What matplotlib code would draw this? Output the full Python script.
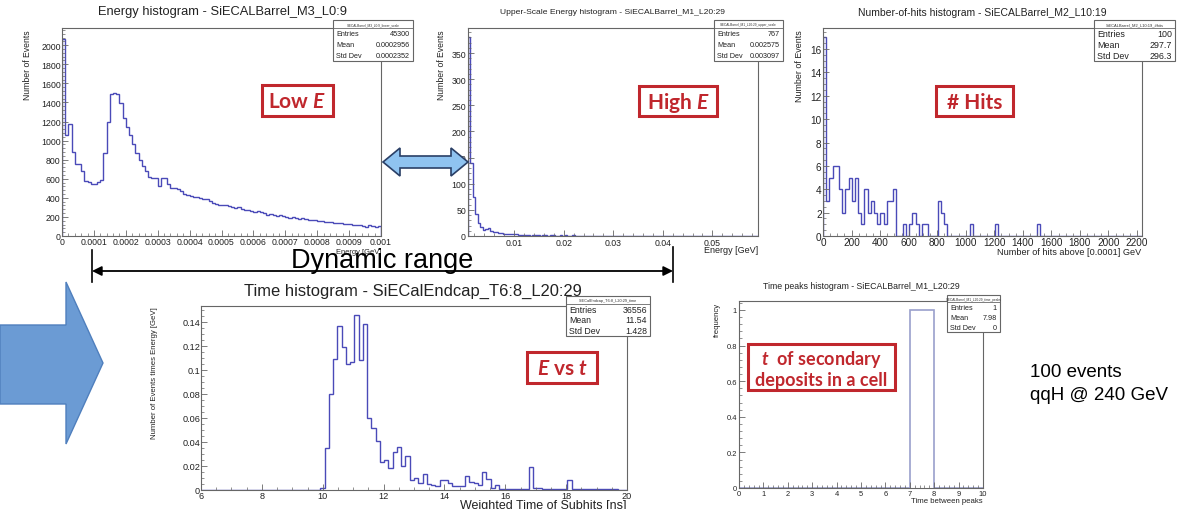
import numpy as np
import matplotlib.pyplot as plt
from matplotlib.patches import Rectangle, Polygon
from matplotlib.ticker import MultipleLocator

plt.rcParams['font.family'] = 'Liberation Sans'
plt.rcParams['mathtext.fontset'] = 'custom'
plt.rcParams['mathtext.rm'] = 'Lato:bold'
plt.rcParams['mathtext.it'] = 'Lato:italic:bold'

# ---- histogram contents ----
# low energy deposits, 100 bins on [0, 0.001] GeV
low_e_range = (0.0, 0.001)
low_e_counts = [2060, 1056, 1170, 881, 756, 756, 683, 578, 568, 550,
                543, 568, 585, 875, 1195, 1491, 1502, 1484, 1397, 1233,
                1143, 1056, 962, 875, 794, 735, 683, 620, 613, 603,
                526, 606, 606, 550, 502, 498, 491, 474, 439, 430,
                420, 410, 405, 400, 390, 385, 370, 345, 335, 330,
                325, 320, 315, 300, 290, 300, 285, 270, 275, 265,
                255, 262, 250, 240, 225, 230, 222, 210, 215, 205,
                198, 190, 195, 185, 180, 190, 175, 170, 165, 168,
                155, 160, 150, 148, 145, 140, 132, 135, 128, 125,
                122, 118, 120, 115, 110, 95, 112, 100, 95, 108]

# upper-scale energy, bins of 0.0005 GeV starting at 0.0007
high_e_start, high_e_width = 0.0007, 0.0005
high_e_counts = [380, 140, 75, 42, 25, 18, 12, 14, 15, 10,
                 7, 8, 6, 5, 4, 3, 3, 4, 4, 3,
                 2, 2, 1, 2, 1, 0, 1, 2, 1, 0,
                 1, 1, 0, 2, 1, 0, 0, 1, 0, 1,
                 0, 0, 1] + [0] * 74

# number of hits per event, 100 bins on [0, 2235]
hits_range = (0, 2235)
hits_counts = ([17, 3, 5, 6, 6, 4, 2, 4, 5, 3, 5, 2, 1, 4, 2, 3, 2, 1, 2, 1, 3, 3, 4]
               + [0, 0, 1, 0, 1, 2, 1, 0, 1, 1, 0, 0, 0, 3, 2, 1, 0, 0, 0, 0, 0, 0, 0]
               + [1] + [0] * 7 + [1] + [0] * 12 + [1] + [0] * 32)

# energy weighted time, 100 bins on [6, 20] ns
time_range = (6, 20)
time_counts = ([0.0] * 28
               + [0.002, 0.035, 0.080, 0.109, 0.137, 0.119, 0.105, 0.107, 0.146, 0.108,
                  0.138, 0.060, 0.052, 0.041, 0.023, 0.025, 0.018, 0.032, 0.036, 0.020,
                  0.028, 0.008, 0.010, 0.006, 0.013, 0.005, 0.004, 0.003, 0.008, 0.008,
                  0.006, 0.003, 0.003, 0.003, 0.012, 0.007, 0.006, 0.004, 0.015, 0.009,
                  0.002, 0.004, 0.001, 0.001, 0.0005, 0.001, 0.001, 0.001, 0.001, 0.019,
                  0.002, 0.002, 0.001, 0.001, 0.001, 0.0005, 0.001, 0.0005, 0.008, 0.001,
                  0.0005, 0.0005, 0.0005, 0.001, 0.0005, 0.0005, 0.0005, 0.0005, 0.0005, 0.0005,
                  0.0, 0.0])

# time between peaks, unit bins on [0, 10]
peaks_counts = [0, 0, 0, 0, 0, 0, 0, 1, 0, 0]

low_e_xticks = ['0', '0.0001', '0.0002', '0.0003', '0.0004', '0.0005',
                '0.0006', '0.0007', '0.0008', '0.0009', '0.001']
high_e_xticks = ['0.01', '0.02', '0.03', '0.04', '0.05']
time_yticks = ['0', '0.02', '0.04', '0.06', '0.08', '0.1', '0.12', '0.14']
peaks_yticks = ['0', '0.2', '0.4', '0.6', '0.8', '1']

stats = {
    'low': ('SiECALBarrel_M3_L0:9_linear_scale', ['45300', '0.0002956', '0.0002352']),
    'high': ('SiECALBarrel_M1_L20:29_upper_scale', ['767', '0.002575', '0.003097']),
    'hits': ('SiECALBarrel_M2_L10:19_#hits', ['100', '297.7', '296.3']),
    'time': ('SiECalEndcap_T6:8_L20:29_time', ['36556', '11.54', '1.428']),
    'peaks': ('SiECALBarrel_M1_L20:29_time_peaks', ['1', '7.98', '0']),
}

W, H = 1187, 510
FRAME = '#666666'
LINE = '#4a4ab8'
RED = '#c0272d'

fig = plt.figure(figsize=(W / 100, H / 100), dpi=100)


def panel(x0, y0, x1, y1):
    return fig.add_axes([x0 / W, 1 - y1 / H, (x1 - x0) / W, (y1 - y0) / H])


def root_style(ax, xmaj, xmin, ymaj, ymin, fs, pad=1.5):
    for s in ax.spines.values():
        s.set_color(FRAME)
        s.set_linewidth(0.8)
    ax.xaxis.set_major_locator(MultipleLocator(xmaj))
    ax.xaxis.set_minor_locator(MultipleLocator(xmin))
    ax.yaxis.set_major_locator(MultipleLocator(ymaj))
    ax.yaxis.set_minor_locator(MultipleLocator(ymin))
    ax.tick_params(which='both', direction='in', color=FRAME, labelcolor='#222222',
                   labelsize=fs, pad=pad)
    ax.tick_params(which='major', length=4.5, width=0.6)
    ax.tick_params(which='minor', length=2.2, width=0.5)


# Low E
ax1 = panel(62, 29, 381, 237)
ax1.stairs(low_e_counts, np.linspace(*low_e_range, len(low_e_counts) + 1), color=LINE, lw=1)
ax1.set_xlim(*low_e_range)
ax1.set_ylim(0, 2180)
root_style(ax1, 0.0001, 0.00002, 200, 40, 6.3, pad=1.0)
ax1.set_xticks(np.linspace(0, 0.001, len(low_e_xticks)), low_e_xticks)

# High E
ax2 = panel(468, 29, 758, 237)
he_edges = high_e_start + high_e_width * np.arange(len(high_e_counts) + 1)
ax2.stairs(high_e_counts, he_edges, color=LINE, lw=1)
ax2.set_xlim(high_e_start, he_edges[-1])
ax2.set_ylim(0, 398)
root_style(ax2, 0.01, 0.002, 50, 10, 6.3)
ax2.set_xticks([0.01, 0.02, 0.03, 0.04, 0.05], high_e_xticks)

# number of hits
ax3 = panel(823, 29, 1142, 237)
ax3.stairs(hits_counts, np.linspace(*hits_range, len(hits_counts) + 1), color=LINE, lw=1)
ax3.set_xlim(*hits_range)
ax3.set_ylim(0, 17.8)
root_style(ax3, 200, 50, 2, 0.5, 7.2, pad=1.0)

# time histogram
ax4 = panel(201, 307, 627, 491)
ax4.stairs(time_counts, np.linspace(*time_range, len(time_counts) + 1), color=LINE, lw=1)
ax4.set_xlim(*time_range)
ax4.set_ylim(0, 0.1533)
root_style(ax4, 2, 0.5, 0.02, 0.005, 6.6, pad=0.6)
ax4.set_yticks(np.arange(len(time_yticks)) * 0.02, time_yticks)

# time between peaks
ax5 = panel(739, 302, 983, 489)
ax5.stairs(peaks_counts, np.arange(len(peaks_counts) + 1), color='#9aa0cc', lw=1.2)
ax5.set_xlim(0, 10)
ax5.set_ylim(0, 1.05)
root_style(ax5, 1, 0.2, 0.2, 0.04, 5.4)
ax5.set_yticks(np.arange(len(peaks_yticks)) * 0.2, peaks_yticks)

# overlay in pixel coordinates for titles, labels and annotations
ov = fig.add_axes([0, 0, 1, 1], zorder=10)
ov.set_xlim(0, W)
ov.set_ylim(H, 0)
ov.set_axis_off()
ov.patch.set_visible(False)

titles = [
    (222, 12, 'Energy histogram - SiECALBarrel_M3_L0:9', 9.3),
    (613, 13, 'Upper-Scale Energy histogram - SiECALBarrel_M1_L20:29', 6.1),
    (982, 13, 'Number-of-hits histogram - SiECALBarrel_M2_L10:19', 7.45),
    (413, 291, 'Time histogram - SiECalEndcap_T6:8_L20:29', 11.9),
    (861, 287, 'Time peaks histogram - SiECALBarrel_M1_L20:29', 6.3),
]
for x, y, t, fs in titles:
    ov.text(x, y, t, ha='center', va='center', fontsize=fs, color='#222222')

ylabels = [(27, 30, 'Number of Events', 6.2), (442, 30, 'Number of Events', 6.2),
           (799, 30, 'Number of Events', 6.4), (155, 307, 'Number of Events times Energy [GeV]', 5.6),
           (717, 303, 'frequency', 5.6)]
for x, y, t, fs in ylabels:
    ov.text(x, y, t, ha='center', va='top', rotation=90, fontsize=fs, color='#222222')

xlabels = [(381, 253, 'Energy [GeV]', 5.4), (758, 251, 'Energy [GeV]', 6.5),
           (1141, 253, 'Number of hits above [0.0001] GeV', 6.6),
           (627, 506, 'Weighted Time of Subhits [ns]', 9.0), (983, 502, 'Time between peaks', 5.6)]
for x, y, t, fs in xlabels:
    ov.text(x, y, t, ha='right', va='center', fontsize=fs, color='#222222')


def stats_box(x0, y0, x1, y1, key, fs):
    name, vals = stats[key]
    ov.add_patch(Rectangle((x0, y0), x1 - x0, y1 - y0, fc='white', ec=FRAME, lw=0.8))
    hdr = y0 + (y1 - y0) * 0.2
    ov.plot([x0, x1], [hdr, hdr], color=FRAME, lw=0.6)
    ov.text((x0 + x1) / 2, (y0 + hdr) / 2, name, ha='center', va='center', fontsize=fs * 0.45,
            color='#333333')
    step = (y1 - hdr) / 3
    for i, lab in enumerate(['Entries', 'Mean', 'Std Dev']):
        yy = hdr + step * (i + 0.5)
        ov.text(x0 + 3, yy, lab, ha='left', va='center', fontsize=fs, color='#222222')
        ov.text(x1 - 3, yy, vals[i], ha='right', va='center', fontsize=fs, color='#222222')


stats_box(333, 21, 413, 62, 'low', 5.2)
stats_box(714, 21, 783, 62, 'high', 5.2)
stats_box(1094, 21, 1175, 62, 'hits', 6.4)
stats_box(566, 297, 650, 337, 'time', 6.3)
stats_box(947, 296, 1000, 333, 'peaks', 5.2)


def red_box(x0, y0, x1, y1, text, fs):
    ov.add_patch(Rectangle((x0, y0), x1 - x0, y1 - y0, fc='white', ec=RED, lw=2.2))
    ov.text((x0 + x1) / 2, (y0 + y1) / 2 + 1, text, ha='center', va='center', fontsize=fs,
            color=RED, fontweight='bold', family='Lato', linespacing=1.15)


red_box(262, 86, 333, 117, 'Low $E$', 15)
red_box(639, 87, 717, 117, 'High $E$', 15)
red_box(936, 87, 1013, 117, '# Hits', 15)
red_box(527, 353, 597, 384, '$E$ vs $t$', 15)
red_box(748, 345, 895, 391, '$t$  of secondary\ndeposits in a cell', 13)

# double arrow between the energy panels
y_c = 163
dbl = [(383, y_c), (400, y_c - 14), (400, y_c - 6), (451, y_c - 6), (451, y_c - 14),
       (468, y_c), (451, y_c + 14), (451, y_c + 6), (400, y_c + 6), (400, y_c + 14)]
ov.add_patch(Polygon(dbl, closed=True, fc='#8fc3f0', ec='#2a3f66', lw=1.2))

# big block arrow on the left
big = [(0, 326), (66, 326), (66, 283), (103, 364), (66, 445), (66, 405), (0, 405)]
ov.add_patch(Polygon(big, closed=True, fc='#6b9bd4', ec='#4f7fbd', lw=1.0))

# dynamic range marker
ov.plot([92, 92], [251, 283], color='black', lw=1.2)
ov.plot([673, 673], [248, 283], color='black', lw=1.2)
ov.annotate('', xy=(92, 272), xytext=(673, 272),
            arrowprops=dict(arrowstyle='<|-|>', color='black', lw=1.3, mutation_scale=14,
                            shrinkA=0, shrinkB=0))
ov.text(382, 261, 'Dynamic range', ha='center', va='center', fontsize=19.5, color='black')

ov.text(1030, 373, '100 events', ha='left', va='center', fontsize=13.5, color='black')
ov.text(1030, 396, 'qqH @ 240 GeV', ha='left', va='center', fontsize=13.5, color='black')

fig.savefig('out.png', dpi=100, facecolor='white')
